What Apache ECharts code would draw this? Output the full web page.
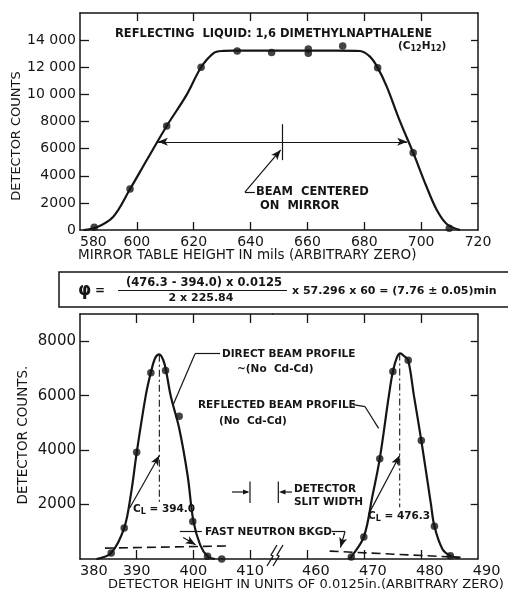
<!DOCTYPE html>
<html><head><meta charset="utf-8">
<script src="https://cdn.jsdelivr.net/npm/echarts@6/dist/echarts.min.js"></script>
<style>html,body{margin:0;padding:0;background:#fff}#c{width:508px;height:592px}</style>
</head><body><div id="c"></div>
<script>
// ---------- top chart data ----------
const topXTicks = [580, 600, 620, 640, 660, 680, 700, 720];
const topYTicks = [0, 2000, 4000, 6000, 8000, 10000, 12000, 14000];
const topPointsX = [585, 597.6, 610.5, 622.6, 635.3, 647.4, 660.3, 660.3, 672.4, 684.7, 697.2, 709.9];
const topPointsY = [200, 3020, 7670, 12000, 13200, 13080, 13350, 13030, 13570, 11970, 5700, 130];
const topCurveX = [581.2, 585.9, 591.7, 597.6, 603.5, 610.5, 617.5, 622.6, 626.9, 629.8, 634, 650, 670, 678.5, 682, 684.7, 687.9, 692.6, 697.2, 701.9, 705.5, 709, 713.7];
const topCurveY = [0, 200, 980, 3020, 5160, 7670, 9960, 12000, 13030, 13200, 13220, 13220, 13220, 13200, 12780, 11970, 10570, 7990, 5700, 3190, 1475, 440, 0];

// ---------- bottom chart data ----------
const botLeftTicks = [380, 390, 400, 410];
const botRightTicks = [460, 470, 480, 490];
const botYTicks = [2000, 4000, 6000, 8000];
const directPointsX = [385.5, 387.8, 390, 392.5, 395.1, 397.5, 399.9, 402.5, 405];
const directPointsY = [220, 1140, 3920, 6840, 6920, 5240, 1380, 100, 0];
const directCurveX = [382.9, 385.5, 387.8, 389, 390, 391.6, 392.5, 393.3, 394, 394.7, 395.2, 396, 397.5, 399, 400, 401.2, 402.5, 403.8];
const directCurveY = [0, 220, 1140, 2400, 3900, 6000, 6850, 7400, 7520, 7300, 6900, 6000, 4800, 3050, 1400, 520, 100, 0];
const reflPointsX = [467.8, 470, 472.8, 475.1, 477.8, 480.1, 482.4, 485.2];
const reflPointsY = [74, 809, 3687, 6885, 7300, 4349, 1200, 121];
const reflCurveX = [467.4, 467.8, 470, 471.5, 472.8, 474.4, 475.1, 475.8, 476.4, 477.1, 477.8, 478.8, 480.1, 481.8, 482.4, 483.8, 485.2, 486.8];
const reflCurveY = [0, 74, 809, 2300, 3687, 6000, 6885, 7400, 7550, 7450, 7300, 6000, 4349, 2000, 1200, 367, 121, 40];
const bkgdLeftX = [384.4, 406.2], bkgdLeftY = [400, 480];
const bkgdRightX = [464, 487], bkgdRightY = [290, 60];
const centerDirect = 394.0, centerRefl = 476.3;

const LEFT_MAX = 414, RIGHT_MIN = 454;
const zip = (a, b) => a.map((v, i) => [v, b[i]]);
const INK = '#151515';
const FF = '"DejaVu Sans", sans-serif';

function axisCommon(extra) {
  return Object.assign({
    type: 'value',
    axisLine: { show: true, onZero: false, lineStyle: { color: INK, width: 1.5 } },
    axisTick: { show: true, inside: true, length: 8, lineStyle: { color: INK, width: 1.3 } },
    axisLabel: { show: false },
    splitLine: { show: false }
  }, extra);
}
const lblStyle = { show: true, color: INK, fontFamily: FF, fontSize: 14, margin: 5,
  showMinLabel: true, showMaxLabel: true, hideOverlap: false, formatter: v => String(v) };

const chart = echarts.init(document.getElementById('c'), null, { renderer: 'canvas' });

const mlBase = (data) => ({
  silent: true, animation: false, symbol: ['none', 'none'], symbolSize: [6, 10],
  label: { show: false }, emphasis: { disabled: true },
  lineStyle: { color: INK, width: 1.2, type: 'solid' },
  data: data
});
const P = (x, y, sym) => sym ? { coord: [x, y], symbol: sym } : { coord: [x, y] };

const option = {
  backgroundColor: '#fff',
  animation: false,
  grid: [
    { left: 80, top: 13, width: 398, height: 217 },
    { left: 80, top: 314, width: 192.7, height: 245 },
    { left: 272.7, top: 314, width: 205, height: 245 }
  ],
  xAxis: [
    axisCommon({ gridIndex: 0, position: 'bottom', min: 580, max: 720, interval: 20,
      axisTick: { show: true, inside: true, length: 8, customValues: [600, 620, 640, 660, 680, 700], lineStyle: { color: INK, width: 1.3 } },
      axisLabel: Object.assign({}, lblStyle, { customValues: topXTicks, alignMinLabel: 'left' }) }),
    axisCommon({ gridIndex: 0, position: 'top', min: 580, max: 720, interval: 20,
      axisTick: { show: true, inside: true, length: 8, customValues: [600, 620, 640, 660, 680, 700], lineStyle: { color: INK, width: 1.3 } } }),
    axisCommon({ gridIndex: 1, position: 'bottom', min: 380, max: LEFT_MAX, interval: 10,
      axisTick: { show: true, inside: true, length: 9, customValues: [390, 400, 410], lineStyle: { color: INK, width: 1.3 } } }),
    axisCommon({ gridIndex: 1, position: 'top', min: 380, max: LEFT_MAX, interval: 10,
      axisTick: { show: true, inside: true, length: 9, customValues: [390, 400, 410], lineStyle: { color: INK, width: 1.3 } } }),
    axisCommon({ gridIndex: 2, position: 'bottom', min: RIGHT_MIN, max: 490, interval: 10,
      axisTick: { show: true, inside: true, length: 9, customValues: [460, 470, 480], lineStyle: { color: INK, width: 1.3 } },
      axisLabel: Object.assign({}, lblStyle, { fontSize: 14.5, customValues: botRightTicks, padding: [0, 0, 0, 18] }) }),
    axisCommon({ gridIndex: 2, position: 'top', min: RIGHT_MIN, max: 490, interval: 10,
      axisTick: { show: true, inside: true, length: 9, customValues: [460, 470, 480], lineStyle: { color: INK, width: 1.3 } } })
  ],
  yAxis: [
    axisCommon({ gridIndex: 0, position: 'left', min: 0, max: 16000, interval: 2000,
      axisTick: { show: true, inside: true, length: 9, customValues: topYTicks.slice(1), lineStyle: { color: INK, width: 1.3 } },
      axisLabel: Object.assign({}, lblStyle, { margin: 4, customValues: topYTicks,
        formatter: v => v >= 10000 ? String(Math.floor(v / 1000)) + ' ' + String(v % 1000).padStart(3, '0') : String(v) }) }),
    axisCommon({ gridIndex: 0, position: 'right', min: 0, max: 16000, interval: 2000,
      axisTick: { show: true, inside: true, length: 7, customValues: topYTicks.slice(1), lineStyle: { color: INK, width: 1.3 } } }),
    axisCommon({ gridIndex: 1, position: 'left', min: 0, max: 9000, interval: 1000,
      axisTick: { show: true, inside: true, length: 9, customValues: botYTicks, lineStyle: { color: INK, width: 1.3 } },
      axisLabel: Object.assign({}, lblStyle, { fontSize: 15, margin: 4, customValues: botYTicks }) }),
    axisCommon({ gridIndex: 2, position: 'right', min: 0, max: 9000, interval: 1000,
      axisTick: { show: true, inside: true, length: 7, customValues: botYTicks, lineStyle: { color: INK, width: 1.3 } } })
  ],
  series: [
    // ---- top chart ----
    { type: 'line', xAxisIndex: 0, yAxisIndex: 0, data: zip(topCurveX, topCurveY), smooth: 0.35,
      showSymbol: false, symbol: 'none', lineStyle: { color: INK, width: 2.2 }, silent: true,
      markLine: mlBase([
        [P(607.4, 6500, 'arrow'), P(695.1, 6500, 'arrow')],
        [P(651, 7800), P(651, 5150)],
        [P(641.5, 2800), P(638, 2800)],
        [P(638, 2800), P(650.6, 5900, 'arrow')]
      ]) },
    { type: 'scatter', xAxisIndex: 0, yAxisIndex: 0, data: zip(topPointsX, topPointsY),
      symbolSize: 7.5, itemStyle: { color: INK }, silent: true },
    // ---- bottom left (direct beam) ----
    { type: 'line', xAxisIndex: 2, yAxisIndex: 2, data: zip(directCurveX, directCurveY), smooth: 0.35,
      showSymbol: false, symbol: 'none', lineStyle: { color: INK, width: 2.2 }, silent: true,
      markLine: mlBase([
        [P(388.8, 1880), P(394, 3800, 'arrow')],
        [P(404.7, 7540), P(400.3, 7540)],
        [P(400.3, 7540), P(396.4, 5650)],
        [P(401.5, 1010), P(397.6, 1010)],
        [P(398.2, 790), P(400.4, 520, 'arrow')]
      ]) },
    { type: 'scatter', xAxisIndex: 2, yAxisIndex: 2, data: zip(directPointsX, directPointsY),
      symbolSize: 7.5, itemStyle: { color: INK }, silent: true },
    { type: 'line', xAxisIndex: 2, yAxisIndex: 2, data: zip(bkgdLeftX, bkgdLeftY), showSymbol: false, symbol: 'none',
      lineStyle: { color: INK, width: 1.6, type: [9, 5] }, silent: true },
    { type: 'line', xAxisIndex: 2, yAxisIndex: 2, data: [[centerDirect, 7500], [centerDirect, 2000]], showSymbol: false, symbol: 'none',
      lineStyle: { color: INK, width: 1.1, type: [7, 3, 2, 3] }, silent: true },
    // ---- bottom right (reflected beam) ----
    { type: 'line', xAxisIndex: 4, yAxisIndex: 3, data: zip(reflCurveX, reflCurveY), smooth: 0.35,
      showSymbol: false, symbol: 'none', lineStyle: { color: INK, width: 2.2 }, silent: true,
      markLine: mlBase([
        [P(470.8, 1630), P(476.3, 3800, 'arrow')],
        [P(468.1, 5670), P(470.2, 5600)],
        [P(470.2, 5600), P(472.6, 4800)],
        [P(464.4, 1010), P(466.7, 1010)],
        [P(466.7, 1010), P(465.9, 420, 'arrow')]
      ]) },
    { type: 'scatter', xAxisIndex: 4, yAxisIndex: 3, data: zip(reflPointsX, reflPointsY),
      symbolSize: 7.5, itemStyle: { color: INK }, silent: true },
    { type: 'line', xAxisIndex: 4, yAxisIndex: 3, data: zip(bkgdRightX, bkgdRightY), showSymbol: false, symbol: 'none',
      lineStyle: { color: INK, width: 1.6, type: [9, 5] }, silent: true },
    { type: 'line', xAxisIndex: 4, yAxisIndex: 3, data: [[centerRefl, 7550], [centerRefl, 1900]], showSymbol: false, symbol: 'none',
      lineStyle: { color: INK, width: 1.1, type: [7, 3, 2, 3] }, silent: true }
  ],
  graphic: (function () {
    const g = [];
    const T = (text, x, y, font, align, extra) => g.push(Object.assign({
      type: 'text', silent: true, x: x, y: y,
      style: Object.assign({ text: text, fill: INK, font: font, textAlign: align || 'left', textVerticalAlign: 'middle' }, extra || {})
    }));
    const L = (x1, y1, x2, y2, w) => g.push({ type: 'line', silent: true,
      shape: { x1: x1, y1: y1, x2: x2, y2: y2 }, style: { stroke: INK, lineWidth: w || 1.2 } });
    const B = 'bold 10.5px ' + FF;
    const sub = { rich: { s: { font: 'bold 8px ' + FF, padding: [6, 0, 0, 0] } } };
    // top chart annotations
    T('REFLECTING  LIQUID: 1,6 DIMETHYLNAPTHALENE', 115, 34, 'bold 11.5px ' + FF);
    T('(C{s|12}H{s|12})', 398, 46, B, 'left', sub);
    T('BEAM  CENTERED', 256, 192, 'bold 11.5px ' + FF);
    T('ON  MIRROR', 260, 206, 'bold 11.5px ' + FF);
    T('MIRROR TABLE HEIGHT IN mils (ARBITRARY ZERO)', 78, 255, '13.5px ' + FF);
    g.push({ type: 'text', silent: true, x: 17, y: 136, rotation: Math.PI / 2,
      style: { text: 'DETECTOR COUNTS', fill: INK, font: '13px ' + FF, textAlign: 'center', textVerticalAlign: 'middle' } });
    // formula box
    g.push({ type: 'rect', silent: true, shape: { x: 59, y: 272, width: 470, height: 35 },
      style: { fill: 'none', stroke: INK, lineWidth: 1.5 } });
    T('\u03C6', 78, 291, 'bold 17px ' + FF);
    T('=', 95, 291, 'bold 12px ' + FF);
    T('(476.3 - 394.0) x 0.0125', 204, 283, 'bold 11.5px ' + FF, 'center');
    L(118, 290.5, 287, 290.5, 1.2);
    T('2 x 225.84', 201, 298.5, 'bold 11px ' + FF, 'center');
    T('x 57.296 x 60 = (7.76 \u00B1 0.05)min', 292, 291, 'bold 11px ' + FF);
    // bottom chart annotations
    g.push({ type: 'text', silent: true, x: 23, y: 435, rotation: Math.PI / 2,
      style: { text: 'DETECTOR COUNTS.', fill: INK, font: '13.5px ' + FF, textAlign: 'center', textVerticalAlign: 'middle' } });
    T('DIRECT BEAM PROFILE', 222, 354, B);
    T('~(No  Cd-Cd)', 237, 369, B);
    T('REFLECTED BEAM PROFILE', 198, 405, B);
    T('(No  Cd-Cd)', 219, 421, B);
    T('C{s|L} = 394.0', 133, 509, B, 'left', sub);
    T('C{s|L} = 476.3', 368, 516, B, 'left', sub);
    T('FAST NEUTRON BKGD.', 205, 532, B);
    T('DETECTOR', 294, 489, B);
    T('SLIT WIDTH', 294, 502, B);
    T('DETECTOR HEIGHT IN UNITS OF 0.0125in.(ARBITRARY ZERO)', 108, 585, '13px ' + FF);
    // detector slit width marks
    L(250, 481.5, 250, 503);
    L(278.3, 481.5, 278.3, 503);
    L(232, 492, 248, 492);
    g.push({ type: 'polygon', silent: true, shape: { points: [[249.5, 492], [243, 489.5], [243, 494.5]] }, style: { fill: INK } });
    L(292, 492, 281, 492);
    g.push({ type: 'polygon', silent: true, shape: { points: [[279, 492], [285.5, 489.5], [285.5, 494.5]] }, style: { fill: INK } });
    // axis break mark (zig-zag strokes crossing the axis line)
    g.push({ type: 'polyline', silent: true, shape: { points: [[267, 566], [273, 556], [271, 555], [277, 545]] }, style: { stroke: INK, lineWidth: 1.3, fill: 'none' } });
    g.push({ type: 'polyline', silent: true, shape: { points: [[273, 566], [279, 556], [277, 555], [283, 545]] }, style: { stroke: INK, lineWidth: 1.3, fill: 'none' } });
    return g;
  })()
};
chart.setOption(option);

// Tick labels of the left part of the broken bottom axis, placed by the axis scale itself
const axisBottomPx = chart.convertToPixel({ yAxisIndex: 2 }, 0);
const leftLabels = botLeftTicks.map((v, i) => ({
  type: 'text', silent: true, zlevel: 1, z: 100,
  x: chart.convertToPixel({ xAxisIndex: 2 }, v), y: axisBottomPx + 5,
  style: { text: String(v), fill: INK, font: '14.5px ' + FF, textAlign: i === 0 ? 'left' : 'center', textVerticalAlign: 'top' }
}));
option.graphic = option.graphic.concat(leftLabels);
chart.setOption(option, true);
</script>
</body></html>
